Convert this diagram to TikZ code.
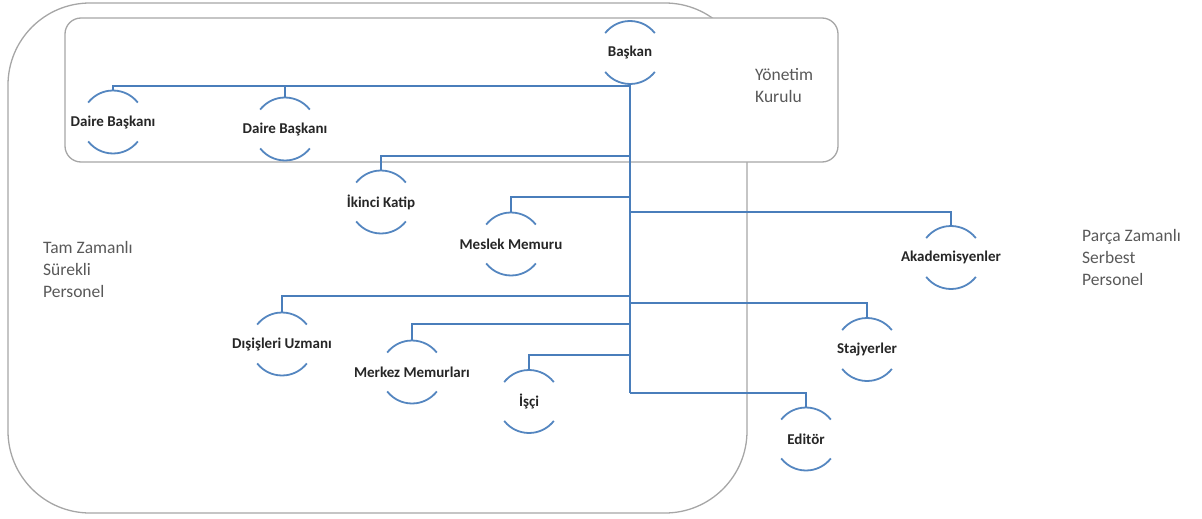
\documentclass[tikz,border=0pt]{standalone}
\usepackage{fontspec}
\setmainfont{Carlito}
\definecolor{linkblue}{RGB}{74,126,187}
\definecolor{arcblue}{RGB}{84,134,192}
\definecolor{boxgray}{RGB}{166,166,166}
\definecolor{labelgray}{RGB}{89,89,89}
\begin{document}
\begin{tikzpicture}[x=1pt,y=1pt,
  person/.style={rectangle,minimum height=63pt,inner sep=0pt,
    font=\fontsize{15}{18}\selectfont\bfseries,text=black!85},
  grouplabel/.style={anchor=west,inner sep=0pt,align=left,
    font=\fontsize{17.5}{22}\selectfont,text=labelgray},
  groupbox/.style={draw=boxgray,line width=1.3pt},
  trunkline/.style={draw=linkblue,line width=2.6pt},
  branchline/.style={draw=linkblue,line width=1.8pt},
  halfarc/.style={draw=arcblue,line width=1.8pt}]
\useasboundingbox (0,0) rectangle (1202,-519);

% staff groups
\draw[groupbox,rounded corners=82pt] (8,-3) rectangle (747,-513);
\draw[groupbox,fill=white,rounded corners=16pt] (65,-18) rectangle (838,-162);

\node[grouplabel] (yk) at (755,-85.5) {Yönetim\\Kurulu};
\node[grouplabel] (tz) at (43,-269.5) {Tam Zamanlı\\Sürekli\\Personel};
\node[grouplabel] (pz) at (1082,-257) {Parça Zamanlı\\Serbest\\Personel};

% positions
\node[person] (baskan) at (630,-52.5) {Başkan};
\node[person] (daire1) at (113,-122) {Daire Başkanı};
\node[person] (daire2) at (285,-129) {Daire Başkanı};
\node[person] (katip) at (381,-202) {İkinci Katip};
\node[person] (meslek) at (511,-244) {Meslek Memuru};
\node[person] (akad) at (951,-257.5) {Akademisyenler};
\node[person] (disisleri) at (282,-344) {Dışişleri Uzmanı};
\node[person] (stajyer) at (867,-349.5) {Stajyerler};
\node[person] (merkez) at (412,-372) {Merkez Memurları};
\node[person] (isci) at (529,-401.5) {İşçi};
\node[person] (editor) at (806,-439) {Editör};

% open circles: only the upper and lower arcs are drawn
\foreach \n in {baskan,daire1,daire2,katip,meslek,akad,disisleri,stajyer,merkez,isci,editor}{
  \draw[halfarc] ([shift={(38:31.5)}]\n.center) arc (38:142:31.5);
  \draw[halfarc] ([shift={(218:31.5)}]\n.center) arc (218:322:31.5);
}

% branch levels on the trunk
\coordinate (lvDaire) at (630,-86);
\coordinate (lvKatip) at (630,-156);
\coordinate (lvMeslek) at (630,-197);
\coordinate (lvAkad) at (630,-212);
\coordinate (lvDis) at (630,-296);
\coordinate (lvStaj) at (630,-303);
\coordinate (lvMerkez) at (630,-324);
\coordinate (lvIsci) at (630,-355);
\coordinate (lvEditor) at (630,-393);

% connectors
\draw[branchline] (lvDaire) -| (daire1.north);
\draw[branchline] (daire2.north) -- (daire2.north |- lvDaire);
\draw[branchline] (lvKatip) -| (katip.north);
\draw[branchline] (lvMeslek) -| (meslek.north);
\draw[branchline] (lvAkad) -| (akad.north);
\draw[branchline] (lvDis) -| (disisleri.north);
\draw[branchline] (lvStaj) -| (stajyer.north);
\draw[branchline] (lvMerkez) -| (merkez.north);
\draw[branchline] (lvIsci) -| (isci.north);
\draw[branchline] (lvEditor) -| (editor.north);
\draw[trunkline] (baskan.south) -- (lvEditor);
\end{tikzpicture}
\end{document}
